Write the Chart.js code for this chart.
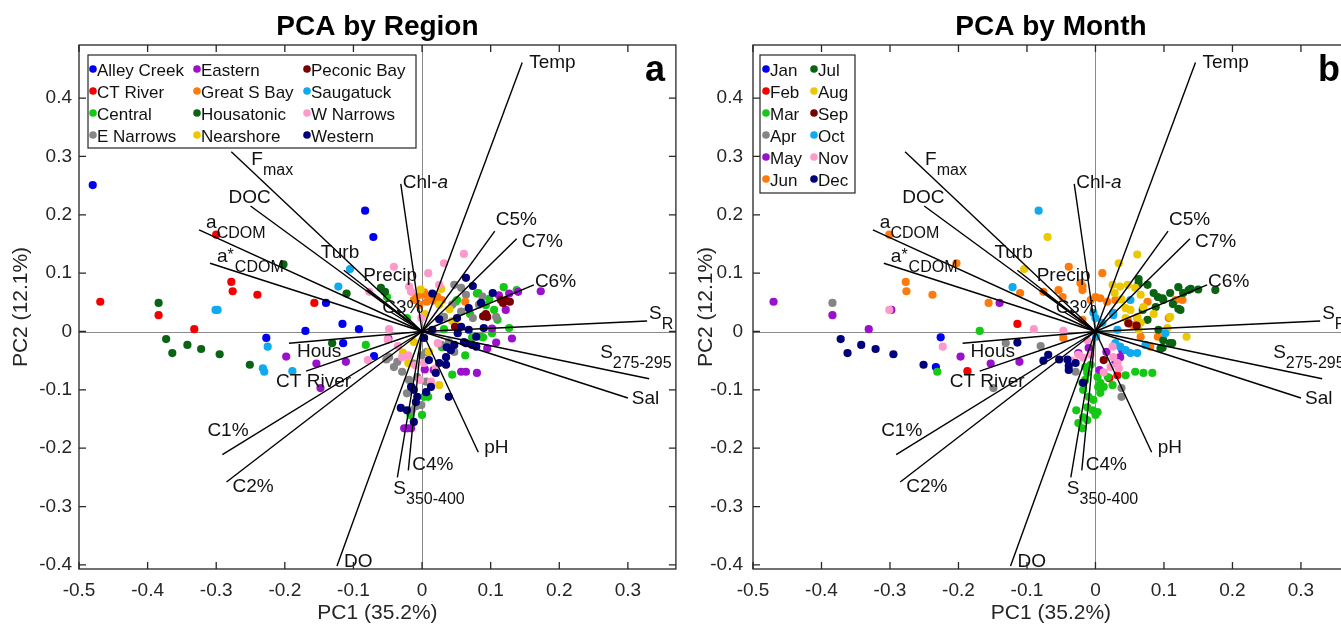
<!DOCTYPE html>
<html>
<head>
<meta charset="utf-8">
<script src="https://cdn.jsdelivr.net/npm/chart.js@4.4.1/dist/chart.umd.min.js"></script>
<style>
  html, body { margin: 0; padding: 0; background: #fff; overflow: hidden; width: 1341px; height: 626px; }
  canvas { position: absolute; top: 0; }
  #pcaRegion { left: 0; }
  #pcaMonth { left: 680px; }
</style>
</head>
<body>
<canvas id="pcaRegion" width="680" height="626"></canvas>
<canvas id="pcaMonth" width="673" height="626"></canvas>
<script>
const FONT = 'Helvetica, "Liberation Sans", Arial, sans-serif';

// axis ticks
const xTicks = [-0.5, -0.4, -0.3, -0.2, -0.1, 0, 0.1, 0.2, 0.3];
const yTicks = [-0.4, -0.3, -0.2, -0.1, 0, 0.1, 0.2, 0.3, 0.4];

// loading vectors (PC1, PC2)
const vectorX = [0.146, -0.278, -0.250, -0.325, -0.309, -0.114, -0.080, -0.045, -0.031, 0.106, 0.138, 0.163,
  0.328, 0.331, 0.300, 0.082, -0.020, -0.036, -0.124, -0.285, -0.291, -0.169, -0.194];
const vectorY = [0.461, 0.308, 0.215, 0.174, 0.117, 0.105, 0.071, 0.033, 0.253, 0.172, 0.159, 0.080,
  0.018, -0.081, -0.114, -0.207, -0.238, -0.250, -0.402, -0.258, -0.211, -0.068, -0.020];
const vectorLabels = [
  [{t: 'Temp'}],
  [{t: 'F'}, {t: 'max', s: 'sub'}],
  [{t: 'DOC'}],
  [{t: 'a'}, {t: 'CDOM', s: 'sub'}],
  [{t: 'a'}, {t: '*', s: 'sup'}, {t: 'CDOM', s: 'sub'}],
  [{t: 'Turb'}],
  [{t: 'Precip'}],
  [{t: 'C3%'}],
  [{t: 'Chl-'}, {t: 'a', i: true}],
  [{t: 'C5%'}],
  [{t: 'C7%'}],
  [{t: 'C6%'}],
  [{t: 'S'}, {t: 'R', s: 'sub'}],
  [{t: 'S'}, {t: '275-295', s: 'sub'}],
  [{t: 'Sal'}],
  [{t: 'pH'}],
  [{t: 'C4%'}],
  [{t: 'S'}, {t: '350-400', s: 'sub'}],
  [{t: 'DO'}],
  [{t: 'C2%'}],
  [{t: 'C1%'}],
  [{t: 'CT River'}],
  [{t: 'Hous'}]
];
// label placement, pixels from the vector tip to the text baseline start
const labelOffsets = [[7, 5], [20, 13], [-22, -3], [7, -2], [7, -1], [-23, -12], [-4, -9], [-9, 1], [2, 4],
  [1, -6], [5, 8], [1, 2], [2, -2], [-49, -21], [4, 6], [6, 1], [4, 0], [-4, 17], [7, 1], [6, 10],
  [-15, -19], [-30, 16], [8, 14]];

// ---- panel a: by region ----
const regionNames = ['Alley Creek', 'CT River', 'Central', 'E Narrows', 'Eastern', 'Great S Bay',
  'Housatonic', 'Nearshore', 'Peconic Bay', 'Saugatuck', 'W Narrows', 'Western'];
const regionColors = ['#0000f0', '#f50000', '#14c814', '#858585', '#9a10cc', '#ff7a0a',
  '#0a6414', '#ecc800', '#7a0000', '#10aaee', '#ff99cc', '#00007a'];

const alleyCreek = [[-0.480, 0.251], [-0.083, 0.207], [-0.071, 0.162], [-0.140, 0.049], [-0.116, 0.013],
  [-0.092, 0.004], [-0.170, 0.001], [-0.227, -0.011], [-0.115, -0.020], [-0.070, -0.042]];
const ctRiver = [[-0.300, 0.166], [-0.469, 0.051], [-0.278, 0.085], [-0.276, 0.069], [-0.240, 0.063],
  [-0.157, 0.049], [-0.384, 0.028], [-0.332, 0.004]];
const central = [[-0.051, 0.059], [-0.022, 0.023], [-0.082, -0.023], [-0.017, -0.143], [0.000, -0.143],
  [0.003, -0.112], [0.009, -0.112], [0.032, 0.004], [0.051, 0.054], [0.082, 0.066], [0.098, 0.056],
  [0.119, 0.076], [0.138, 0.071], [0.105, 0.037], [0.073, -0.010], [0.089, -0.010], [0.029, -0.027],
  [0.063, -0.041], [0.044, -0.074], [0.006, -0.108], [0.049, 0.051], [0.080, 0.065], [0.102, -0.003],
  [0.086, -0.009], [0.127, 0.006], [0.110, 0.020], [0.070, 0.030], [0.093, 0.045]];
const eNarrows = [[0.047, 0.080], [0.057, 0.075], [0.064, 0.063], [0.083, 0.046], [0.074, 0.023],
  [0.044, 0.046], [0.057, 0.034], [0.032, 0.025], [0.047, -0.035], [0.028, -0.023], [-0.048, -0.044],
  [-0.036, -0.052], [-0.001, -0.041], [-0.012, -0.055], [-0.041, -0.061], [-0.019, -0.083],
  [-0.007, -0.078], [-0.015, -0.095], [-0.022, -0.106], [-0.001, -0.126], [-0.015, -0.135],
  [-0.052, -0.048], [-0.009, -0.128], [0.108, 0.025], [0.039, -0.018], [0.007, -0.035],
  [0.006, -0.086], [-0.029, -0.069], [0.088, 0.060]];
const eastern = [[0.173, 0.069], [0.122, 0.037], [0.127, 0.065], [0.112, 0.062], [0.131, -0.012],
  [0.108, -0.019], [0.095, -0.029], [0.057, -0.069], [0.064, -0.069], [0.080, -0.071], [0.017, -0.066],
  [-0.026, -0.166], [-0.016, -0.166], [-0.049, -0.012], [-0.111, -0.052], [-0.154, -0.055],
  [-0.198, -0.043], [-0.148, -0.097], [0.102, 0.005], [0.004, -0.065], [0.140, 0.068], [-0.021, -0.166]];
const greatSBay = [[0.000, 0.063], [0.010, 0.060], [0.017, 0.053], [0.029, 0.054], [-0.012, 0.054],
  [-0.004, 0.046], [0.007, 0.051], [0.063, 0.051], [0.003, 0.067], [0.022, 0.060], [-0.008, 0.060]];
const housatonic = [[-0.202, 0.115], [-0.384, 0.049], [-0.110, 0.065], [-0.054, 0.068], [-0.373, -0.013],
  [-0.364, -0.037], [-0.342, -0.023], [-0.322, -0.030], [-0.295, -0.039], [-0.251, -0.057],
  [-0.131, -0.020], [-0.060, 0.075]];
const nearshore = [[0.028, 0.073], [0.004, 0.030], [0.025, 0.046], [0.044, 0.018], [0.049, 0.011],
  [-0.012, -0.018], [-0.028, -0.036], [-0.020, -0.054], [0.010, -0.035], [0.035, -0.057],
  [0.025, -0.092], [0.040, 0.038], [-0.002, 0.072]];
const peconicBay = [[0.115, 0.054], [0.122, 0.053], [0.118, 0.049], [0.093, 0.030], [0.095, 0.025],
  [0.089, 0.026], [0.048, 0.008], [0.128, 0.051]];
const saugatuck = [[-0.301, 0.037], [-0.298, 0.037], [-0.105, 0.107], [-0.122, 0.077], [-0.232, -0.063],
  [-0.230, -0.069], [-0.225, -0.026], [-0.189, -0.068]];
const wNarrows = [[-0.041, 0.111], [-0.077, 0.068], [-0.019, 0.077], [-0.016, 0.068], [0.009, 0.100],
  [0.061, 0.133], [0.032, 0.117], [0.025, 0.080], [-0.001, 0.023], [-0.048, 0.004], [-0.079, -0.049],
  [0.023, -0.020], [-0.029, -0.044], [-0.020, -0.041], [-0.010, -0.058], [0.020, -0.063],
  [0.013, -0.086], [-0.003, -0.083], [0.003, -0.054], [-0.050, -0.014], [-0.035, -0.025]];
const western = [[0.064, 0.092], [0.074, 0.078], [0.103, 0.066], [0.086, 0.049], [0.068, 0.040],
  [0.051, 0.023], [0.025, 0.021], [0.057, 0.008], [0.068, 0.003], [0.079, -0.009], [0.090, 0.006],
  [0.003, -0.011], [0.015, 0.003], [0.036, -0.027], [0.047, -0.023], [0.061, -0.018], [0.073, -0.023],
  [0.010, -0.049], [0.025, -0.054], [0.035, -0.044], [0.020, -0.071], [-0.012, -0.100],
  [-0.007, -0.112], [-0.016, -0.095], [-0.009, -0.121], [-0.031, -0.131], [-0.012, -0.155],
  [-0.022, -0.135], [0.013, -0.095], [0.006, -0.104], [0.039, -0.112], [0.079, -0.026],
  [0.064, -0.020], [0.052, -0.003], [0.042, -0.032], [0.015, 0.065], [0.035, -0.057]];
const regionPoints = [alleyCreek, ctRiver, central, eNarrows, eastern, greatSBay, housatonic,
  nearshore, peconicBay, saugatuck, wNarrows, western];

// ---- panel b: by month ----
const monthNames = ['Jan', 'Feb', 'Mar', 'Apr', 'May', 'Jun', 'Jul', 'Aug', 'Sep', 'Oct', 'Nov', 'Dec'];
const monthColors = ['#0000f0', '#f50000', '#14c814', '#858585', '#9a10cc', '#ff7a0a',
  '#0a6414', '#ecc800', '#7a0000', '#10aaee', '#ff99cc', '#00007a'];

const jan = [[-0.226, -0.010], [-0.233, -0.061]];
const feb = [[-0.114, 0.013], [-0.187, -0.068], [0.020, -0.080], [0.032, -0.075]];
const mar = [[-0.169, 0.001], [-0.231, -0.069], [-0.007, -0.057], [-0.012, -0.071], [0.003, -0.078],
  [0.007, -0.088], [-0.018, -0.100], [-0.010, -0.112], [-0.003, -0.117], [0.007, -0.105],
  [-0.012, -0.130], [-0.004, -0.135], [-0.018, -0.147], [0.003, -0.138], [0.012, -0.095],
  [0.018, -0.078], [0.044, -0.075], [0.058, -0.069], [0.070, -0.071], [0.083, -0.071],
  [-0.028, -0.135], [-0.025, -0.157], [-0.019, -0.166], [-0.015, -0.083], [0.000, -0.143],
  [-0.012, -0.152], [-0.019, -0.088], [0.025, -0.092], [-0.015, -0.061], [0.004, -0.095]];
const apr = [[-0.384, 0.049], [-0.131, -0.020], [-0.149, -0.097], [-0.080, -0.025], [-0.029, -0.069],
  [0.038, -0.112], [0.038, -0.097]];
const may = [[-0.470, 0.051], [-0.384, 0.028], [-0.140, 0.049], [-0.331, 0.004], [-0.197, -0.043],
  [-0.153, -0.055], [-0.111, -0.052], [-0.025, -0.037], [0.006, -0.066], [0.016, -0.035],
  [-0.010, -0.028], [0.036, -0.044], [0.029, -0.054], [0.039, -0.032], [-0.298, 0.037]];
const jun = [[-0.301, 0.166], [-0.277, 0.085], [-0.276, 0.069], [-0.238, 0.063], [-0.156, 0.049],
  [-0.203, 0.117], [-0.110, 0.066], [-0.076, 0.068], [-0.039, 0.111], [-0.019, 0.078], [0.010, 0.100],
  [-0.054, 0.071], [-0.048, 0.059], [-0.022, 0.083], [-0.019, 0.071], [-0.007, 0.054], [0.000, 0.059],
  [0.007, 0.057], [0.017, 0.051], [0.029, 0.054], [-0.019, 0.020], [-0.047, -0.011], [0.047, 0.020],
  [0.054, 0.011], [0.061, 0.023], [0.066, -0.009], [0.080, -0.026], [0.091, -0.009], [0.076, 0.051],
  [0.107, 0.023], [0.117, 0.054], [0.127, 0.054]];
const jul = [[0.175, 0.071], [0.139, 0.073], [0.121, 0.076], [0.109, 0.066], [0.098, 0.057],
  [0.085, 0.066], [0.076, 0.080], [0.063, 0.090], [0.128, 0.066], [0.063, 0.083], [0.091, 0.059],
  [0.099, 0.054], [0.136, 0.071], [0.088, 0.042], [0.076, 0.020], [0.092, 0.003], [0.099, -0.015],
  [0.098, -0.028], [0.112, -0.020], [0.069, 0.037], [0.124, 0.037], [0.121, 0.039], [0.109, -0.020],
  [0.095, -0.029], [0.150, 0.072], [0.113, 0.047]];
const aug = [[-0.070, 0.162], [-0.104, 0.107], [0.061, 0.132], [0.034, 0.117], [0.025, 0.080],
  [0.036, 0.077], [0.047, 0.080], [0.058, 0.075], [0.066, 0.063], [0.044, 0.040], [0.051, 0.037],
  [0.044, 0.023], [0.061, 0.025], [0.066, 0.015], [0.070, 0.042], [0.105, 0.006], [0.133, -0.009],
  [0.063, 0.003], [0.038, 0.055], [0.109, 0.025], [0.085, 0.030], [0.028, 0.066]];
const sep = [[0.012, -0.049], [0.048, 0.014], [0.060, 0.010]];
const oct = [[-0.083, 0.207], [-0.121, 0.076], [0.000, 0.023], [0.026, 0.032], [0.032, 0.003],
  [0.051, 0.054], [0.001, -0.009], [0.036, -0.026], [0.044, -0.032], [0.051, -0.037], [0.061, -0.037],
  [0.073, -0.023], [0.102, -0.003], [0.029, -0.020], [-0.003, 0.032], [0.026, 0.028], [0.010, 0.015]];
const nov = [[-0.301, 0.037], [-0.223, -0.026], [-0.090, 0.004], [-0.047, 0.001], [-0.012, -0.015],
  [-0.025, -0.040], [-0.018, -0.045], [0.026, -0.044], [0.032, -0.054], [0.022, -0.061],
  [0.025, -0.026], [0.034, -0.063], [-0.007, -0.040], [0.012, -0.070], [-0.035, -0.050]];
const dec = [[-0.372, -0.013], [-0.362, -0.037], [-0.342, -0.023], [-0.321, -0.030], [-0.295, -0.039],
  [-0.251, -0.057], [-0.114, -0.019], [-0.076, -0.050], [-0.069, -0.040], [-0.053, -0.048],
  [-0.041, -0.048], [-0.039, -0.059], [-0.029, -0.054], [-0.039, -0.066], [-0.018, -0.088]];
const monthPoints = [jan, feb, mar, apr, may, jun, jul, aug, sep, oct, nov, dec];

// draws a label made of normal / sub / sup / italic pieces
function drawLabel(ctx, x, y, segs) {
  let cx = x;
  segs.forEach(seg => {
    const size = seg.s ? 16 : 19;
    const dy = seg.s === 'sub' ? 10 : (seg.s === 'sup' ? -2 : 0);
    ctx.font = (seg.i ? 'italic ' : '') + size + 'px ' + FONT;
    ctx.fillText(seg.t, cx, y + dy);
    cx += ctx.measureText(seg.t).width + (seg.s === 'sup' ? 1 : 0);
  });
}

const framePlugin = {
  id: 'frame',
  beforeDatasetsDraw(chart) {
    const {ctx, chartArea: a, scales: {x, y}} = chart;
    const x0 = Math.round(x.getPixelForValue(0)) + 0.5;
    const y0 = Math.round(y.getPixelForValue(0)) + 0.5;
    ctx.save();
    ctx.strokeStyle = '#8a8a8a';
    ctx.lineWidth = 1;
    ctx.beginPath();
    ctx.moveTo(a.left, y0); ctx.lineTo(a.right, y0);
    ctx.moveTo(x0, a.top); ctx.lineTo(x0, a.bottom);
    ctx.stroke();
    ctx.restore();
  },
  afterDatasetsDraw(chart, args, opts) {
    const {ctx, chartArea: a, scales: {x, y}} = chart;
    ctx.save();

    // vector labels
    ctx.fillStyle = '#111';
    ctx.textAlign = 'left';
    ctx.textBaseline = 'alphabetic';
    vectorLabels.forEach((segs, i) => {
      const px = x.getPixelForValue(vectorX[i]) + labelOffsets[i][0];
      const py = y.getPixelForValue(vectorY[i]) + labelOffsets[i][1];
      drawLabel(ctx, px, py, segs);
    });

    // box and inward ticks
    ctx.strokeStyle = '#262626';
    ctx.lineWidth = 1.3;
    ctx.strokeRect(a.left, a.top, a.right - a.left, a.bottom - a.top);
    ctx.beginPath();
    xTicks.forEach(v => {
      const p = x.getPixelForValue(v);
      ctx.moveTo(p, a.bottom); ctx.lineTo(p, a.bottom - 7);
      ctx.moveTo(p, a.top); ctx.lineTo(p, a.top + 7);
    });
    yTicks.forEach(v => {
      const p = y.getPixelForValue(v);
      ctx.moveTo(a.left, p); ctx.lineTo(a.left + 7, p);
      ctx.moveTo(a.right, p); ctx.lineTo(a.right - 7, p);
    });
    ctx.stroke();

    // legend box
    const lg = opts.legend;
    const bx = a.left + lg.box[0], by = a.top + lg.box[1];
    ctx.fillStyle = '#fff';
    ctx.fillRect(bx, by, lg.box[2], lg.box[3]);
    ctx.lineWidth = 1.2;
    ctx.strokeRect(bx, by, lg.box[2], lg.box[3]);
    ctx.font = '17px ' + FONT;
    lg.names.forEach((n, i) => {
      const col = Math.floor(i / lg.rows), row = i % lg.rows;
      const mx = a.left + lg.colX[col];
      const base = by + 21 + row * 22;
      ctx.fillStyle = lg.colors[i];
      ctx.beginPath();
      ctx.arc(mx, base - 7, 3.8, 0, Math.PI * 2);
      ctx.fill();
      ctx.fillStyle = '#111';
      ctx.fillText(n, mx + 4, base);
    });

    // panel letter
    ctx.font = 'bold 36px ' + FONT;
    ctx.fillStyle = '#000';
    ctx.fillText(opts.letter, a.right - 31, a.top + 36);

    // title
    ctx.font = 'bold 28px ' + FONT;
    ctx.textAlign = 'center';
    ctx.fillText(opts.title, (a.left + a.right) / 2, 35);
    ctx.restore();
  }
};

function tickText(v) {
  return Math.abs(v) < 1e-9 ? '0' : v.toFixed(1);
}

function makeChart(id, names, colors, points, cfg) {
  const datasets = names.map((n, i) => ({
    type: 'scatter',
    label: n,
    data: points[i].map(p => ({x: p[0], y: p[1]})),
    backgroundColor: colors[i],
    borderWidth: 0,
    pointRadius: 4.1,
    order: 100 - i
  }));
  vectorLabels.forEach((l, i) => datasets.push({
    type: 'line',
    label: 'vector' + i,
    data: [{x: 0, y: 0}, {x: vectorX[i], y: vectorY[i]}],
    borderColor: '#000',
    borderWidth: 1.4,
    pointRadius: 0,
    fill: false,
    order: 0
  }));

  return new Chart(document.getElementById(id), {
    type: 'scatter',
    data: {datasets},
    options: {
      responsive: false,
      animation: false,
      events: [],
      layout: {padding: {top: 45, right: 4, left: 0, bottom: 0}},
      plugins: {
        legend: {display: false},
        tooltip: {enabled: false},
        frame: {
          title: cfg.title,
          letter: cfg.letter,
          legend: {names, colors, rows: cfg.rows, colX: cfg.colX, box: cfg.box}
        }
      },
      scales: {
        x: {
          type: 'linear', min: -0.5, max: 0.37,
          afterBuildTicks: s => { s.ticks = xTicks.map(v => ({value: v})); },
          afterFit: s => { s.height = 57; },
          grid: {display: false, drawTicks: false},
          border: {display: false},
          ticks: {color: '#262626', padding: 10, font: {family: FONT, size: 19}, callback: tickText},
          title: {display: true, text: 'PC1 (35.2%)', color: '#262626',
            font: {family: FONT, size: 21}, padding: {top: 0, bottom: 0}}
        },
        y: {
          type: 'linear', min: -0.407, max: 0.491,
          afterBuildTicks: s => { s.ticks = yTicks.map(v => ({value: v})); },
          afterFit: s => { s.width = cfg.yWidth; },
          grid: {display: false, drawTicks: false},
          border: {display: false},
          ticks: {color: '#262626', padding: cfg.tickPad, font: {family: FONT, size: 19}, callback: tickText},
          title: {display: true, text: 'PC2 (12.1%)', color: '#262626',
            font: {family: FONT, size: 21}, padding: {top: cfg.titlePad, bottom: 0}}
        }
      }
    },
    plugins: [framePlugin]
  });
}

makeChart('pcaRegion', regionNames, regionColors, regionPoints, {
  title: 'PCA by Region', letter: 'a', yWidth: 79, tickPad: 7, titlePad: 9,
  rows: 4, colX: [14, 118, 228], box: [9, 10, 328, 93]
});
makeChart('pcaMonth', monthNames, monthColors, monthPoints, {
  title: 'PCA by Month', letter: 'b', yWidth: 73, tickPad: 10, titlePad: 14,
  rows: 6, colX: [13, 61], box: [7, 10, 95, 138]
});
</script>
</body>
</html>
